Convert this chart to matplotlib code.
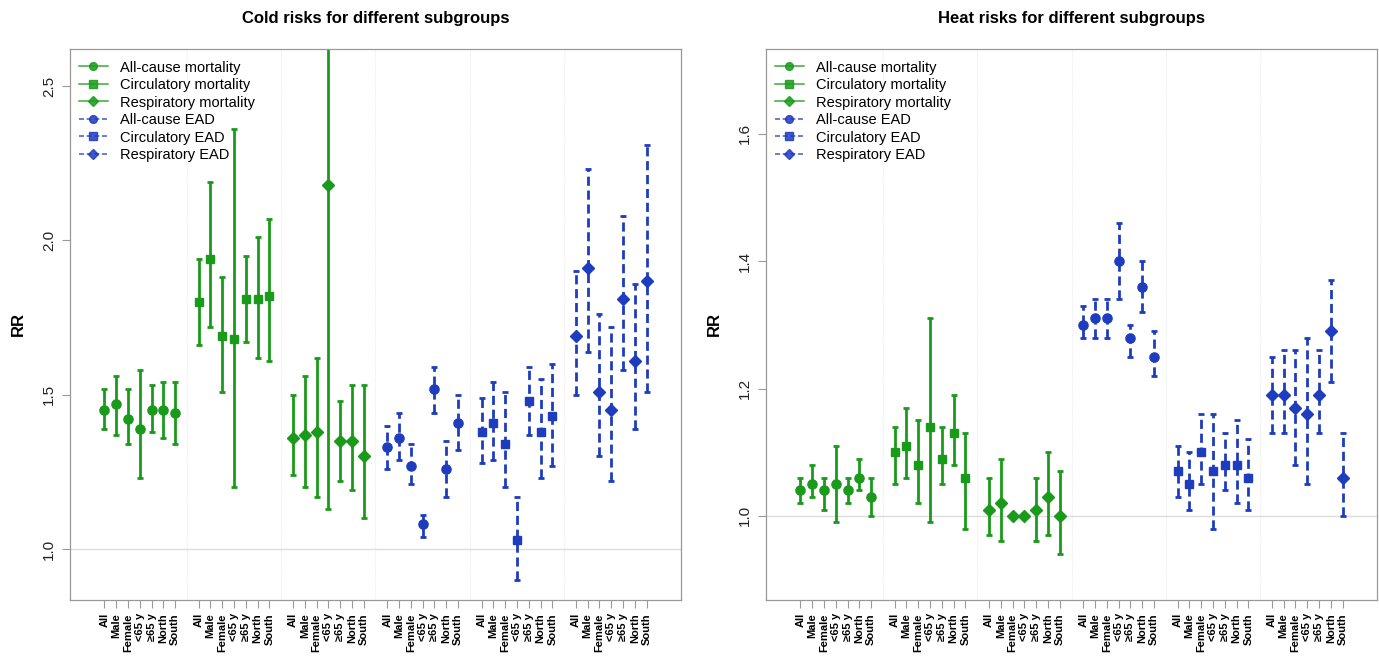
import matplotlib
matplotlib.use('Agg')
import matplotlib.pyplot as plt
from matplotlib.lines import Line2D
import numpy as np

plt.rcParams['font.family'] = ['Liberation Sans', 'DejaVu Sans']

subgroups = ['All', 'Male', 'Female', '<65 y', '≥65 y', 'North', 'South']
outcomes = ['All-cause mortality', 'Circulatory mortality', 'Respiratory mortality',
	'All-cause EAD', 'Circulatory EAD', 'Respiratory EAD']

# cold: estimate, lower, upper per outcome (7 subgroups each)
cold_est = [
	[1.45, 1.47, 1.42, 1.39, 1.45, 1.45, 1.44],
	[1.80, 1.94, 1.69, 1.68, 1.81, 1.81, 1.82],
	[1.36, 1.37, 1.38, 2.18, 1.35, 1.35, 1.30],
	[1.33, 1.36, 1.27, 1.08, 1.52, 1.26, 1.41],
	[1.38, 1.41, 1.34, 1.03, 1.48, 1.38, 1.43],
	[1.69, 1.91, 1.51, 1.45, 1.81, 1.61, 1.87],
]
cold_lo = [
	[1.39, 1.37, 1.34, 1.23, 1.38, 1.36, 1.34],
	[1.66, 1.72, 1.51, 1.20, 1.67, 1.62, 1.61],
	[1.24, 1.20, 1.17, 1.13, 1.22, 1.19, 1.10],
	[1.26, 1.29, 1.21, 1.04, 1.44, 1.17, 1.32],
	[1.28, 1.29, 1.20, 0.90, 1.37, 1.23, 1.27],
	[1.50, 1.64, 1.30, 1.22, 1.58, 1.39, 1.51],
]
cold_hi = [
	[1.52, 1.56, 1.52, 1.58, 1.53, 1.54, 1.54],
	[1.94, 2.19, 1.88, 2.36, 1.95, 2.01, 2.07],
	[1.50, 1.56, 1.62, 2.90, 1.48, 1.53, 1.53],
	[1.40, 1.44, 1.34, 1.11, 1.59, 1.35, 1.50],
	[1.49, 1.54, 1.51, 1.17, 1.59, 1.55, 1.60],
	[1.90, 2.23, 1.76, 1.72, 2.08, 1.86, 2.31],
]

# heat
heat_est = [
	[1.04, 1.05, 1.04, 1.05, 1.04, 1.06, 1.03],
	[1.10, 1.11, 1.08, 1.14, 1.09, 1.13, 1.06],
	[1.01, 1.02, 1.00, 1.00, 1.01, 1.03, 1.00],
	[1.30, 1.31, 1.31, 1.40, 1.28, 1.36, 1.25],
	[1.07, 1.05, 1.10, 1.07, 1.08, 1.08, 1.06],
	[1.19, 1.19, 1.17, 1.16, 1.19, 1.29, 1.06],
]
heat_lo = [
	[1.02, 1.03, 1.01, 0.99, 1.02, 1.04, 1.00],
	[1.05, 1.06, 1.02, 0.99, 1.05, 1.08, 0.98],
	[0.97, 0.96, 1.00, 1.00, 0.96, 0.97, 0.94],
	[1.28, 1.28, 1.28, 1.34, 1.25, 1.32, 1.22],
	[1.03, 1.01, 1.05, 0.98, 1.04, 1.02, 1.01],
	[1.13, 1.13, 1.08, 1.05, 1.13, 1.21, 1.00],
]
heat_hi = [
	[1.06, 1.08, 1.06, 1.11, 1.06, 1.09, 1.06],
	[1.14, 1.17, 1.15, 1.31, 1.14, 1.19, 1.13],
	[1.06, 1.09, 1.00, 1.00, 1.06, 1.10, 1.07],
	[1.33, 1.34, 1.34, 1.46, 1.30, 1.40, 1.29],
	[1.11, 1.10, 1.16, 1.16, 1.13, 1.15, 1.12],
	[1.25, 1.26, 1.26, 1.28, 1.26, 1.37, 1.13],
]

GREEN = '#1a9a1a'
BLUE = '#1e3cbe'
colors = [GREEN, GREEN, GREEN, BLUE, BLUE, BLUE]
markers = ['o', 's', 'D', 'o', 's', 'D']
msizes = [6.6, 6.2, 5.8, 6.6, 6.2, 5.8]
dashed = (0, (3.3, 1.7))
styles = ['-', '-', '-', dashed, dashed, dashed]


def drawRiskPanel(ax: plt.Axes, est: list, lo: list, hi: list, title: str,
		ylim: tuple, yticks: list) -> None:
	ax.set_xlim(-1.92, 49.92)
	ax.set_ylim(*ylim)
	for sep in [8, 16, 24, 32, 40]:
		ax.axvline(sep, color='#ececec', lw=0.8, ls=(0, (1, 1)), zorder=0)
	ax.axhline(1.0, color='#dddddd', lw=1, zorder=0)
	for g in range(len(outcomes)):
		x = g * 8 + np.arange(1, 8)
		ax.vlines(x, lo[g], hi[g], colors=colors[g], lw=2, linestyles=styles[g])
		ax.plot(x, lo[g], ls='none', marker='_', ms=5, mew=2, color=colors[g])
		ax.plot(x, hi[g], ls='none', marker='_', ms=5, mew=2, color=colors[g])
		ax.plot(x, est[g], ls='none', marker=markers[g], ms=msizes[g],
			color=colors[g], mec=colors[g])
	xt = np.concatenate([g * 8 + np.arange(1, 8) for g in range(len(outcomes))])
	ax.set_xticks(xt)
	ax.set_xticklabels(subgroups * len(outcomes), rotation=90, fontsize=8,
		fontweight='bold', va='top')
	ax.set_yticks(yticks)
	ax.set_yticklabels(['%.1f' % t for t in yticks], rotation=90, va='center',
		fontsize=11, color='#222222')
	ax.tick_params(axis='both', color='#999999', length=6, width=0.8)
	ax.tick_params(axis='y', pad=4)
	for side in ax.spines.values():
		side.set_color('#999999')
		side.set_linewidth(0.9)
	ax.set_ylabel('RR', fontsize=12, fontweight='bold', labelpad=12)
	ax.set_title(title, fontsize=12, fontweight='bold', pad=19)

	handles = []
	for g in range(len(outcomes)):
		handles.append(Line2D([0], [0], color=colors[g], lw=1.1, ls=styles[g],
			marker=markers[g], ms=msizes[g] - 1, mec=colors[g], alpha=0.85))
	ax.legend(handles, outcomes, loc='upper left', frameon=False, fontsize=10.5,
		handlelength=2.0, handletextpad=0.8, labelspacing=0.24,
		borderaxespad=0.2, bbox_to_anchor=(0.0, 0.995))


fig = plt.figure(figsize=(13.79, 6.62), dpi=100)
ax_cold = fig.add_axes([70 / 1379, 62 / 662, 611 / 1379, 551 / 662])
ax_heat = fig.add_axes([766 / 1379, 62 / 662, 611 / 1379, 551 / 662])

drawRiskPanel(ax_cold, cold_est, cold_lo, cold_hi, 'Cold risks for different subgroups',
	(0.835, 2.62), [1.0, 1.5, 2.0, 2.5])
drawRiskPanel(ax_heat, heat_est, heat_lo, heat_hi, 'Heat risks for different subgroups',
	(0.868, 1.733), [1.0, 1.2, 1.4, 1.6])

fig.savefig('out.png', dpi=100)
